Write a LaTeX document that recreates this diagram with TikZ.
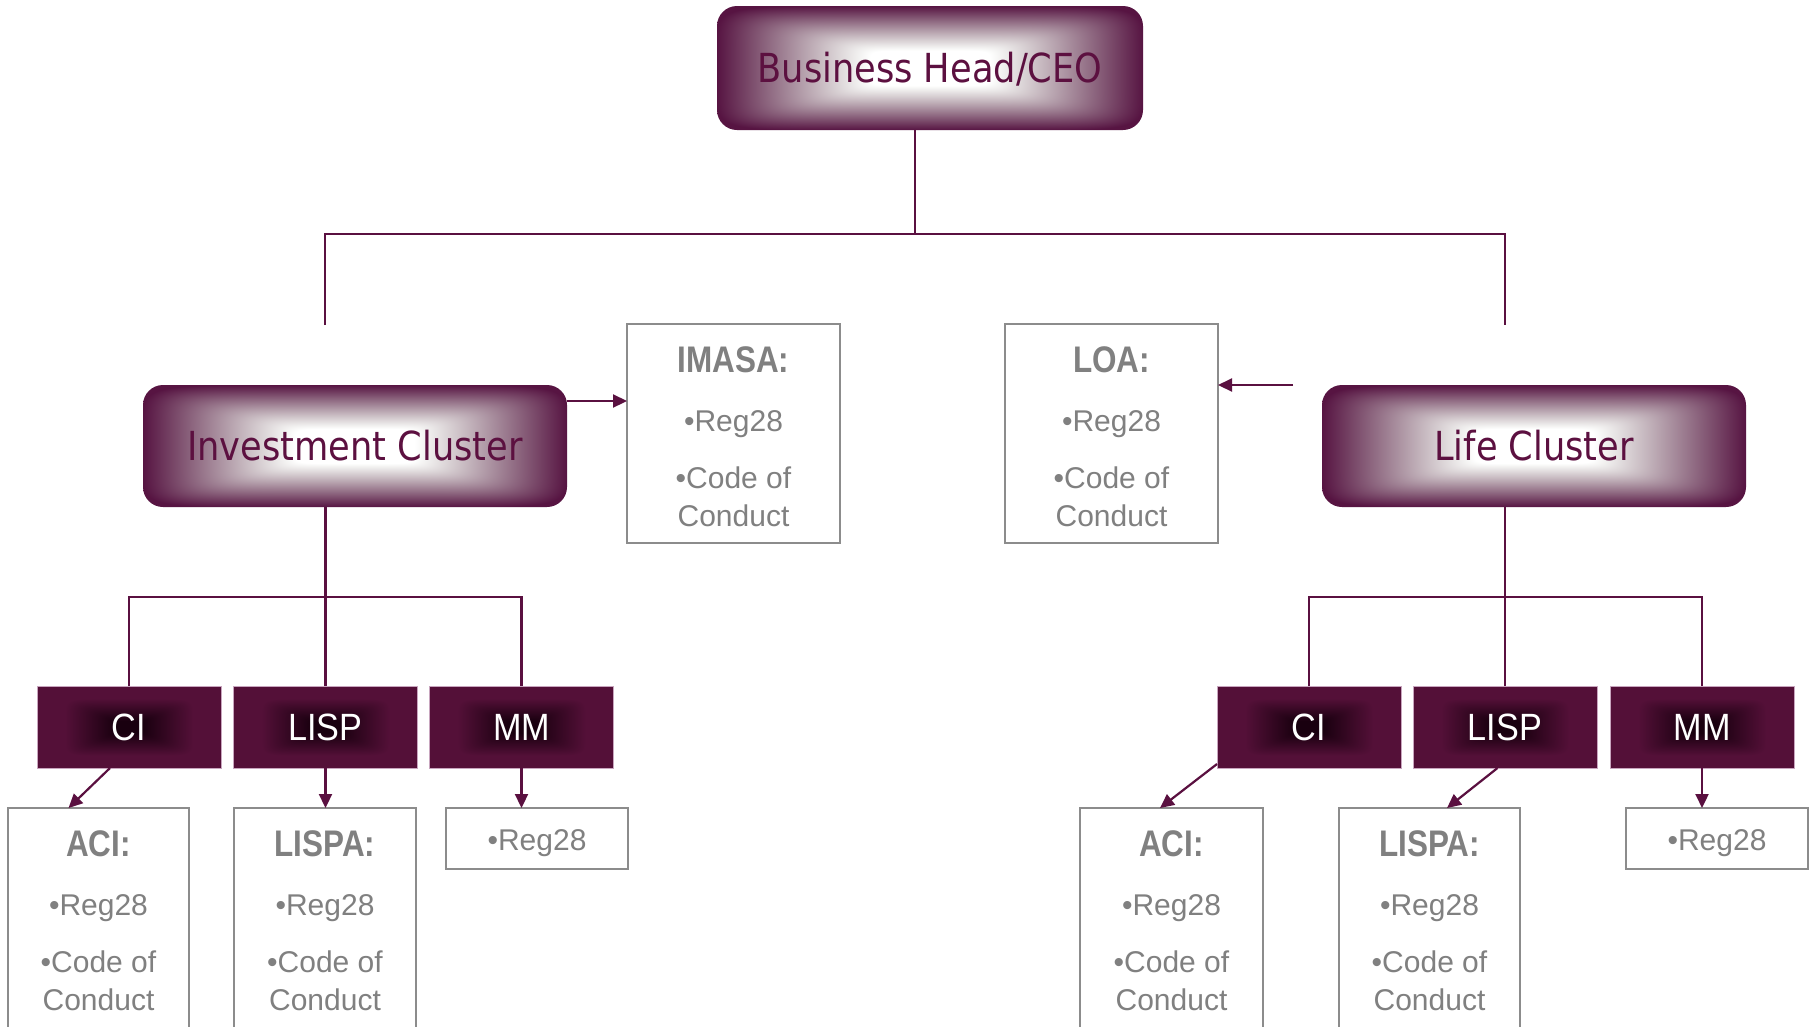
\documentclass[tikz,border=0pt]{standalone}
\usepackage{fontspec}
\setmainfont{Liberation Sans}
\newfontfamily\clusterfont[FakeStretch=0.88]{DejaVu Sans}
\newfontfamily\narrowfont[FakeStretch=0.9]{Liberation Sans}
\newfontfamily\titlefont[FakeStretch=0.85]{Liberation Sans}
\usetikzlibrary{arrows.meta}
\definecolor{lineplum}{RGB}{90,16,64}
\definecolor{clustertext}{RGB}{92,16,64}
\definecolor{txtgray}{RGB}{128,128,128}
\definecolor{boxgray}{RGB}{140,140,140}
\definecolor{ciedge}{RGB}{200,165,190}
\pgfdeclarefunctionalshading{clustershade}{\pgfpoint{-50bp}{-50bp}}{\pgfpoint{50bp}{50bp}}{}{
25 div dup mul dup mul dup mul exch 25 div dup mul dup mul dup mul add sqrt sqrt sqrt
0.28 sub 0.72 div
dup 0 lt {pop 0} if
dup 1 gt {pop 1} if
dup 0.66 mul 1 exch sub
exch dup 1.1 exp 0.92 mul 1 exch sub
exch 0.74 mul 1 exch sub
}
\pgfdeclarefunctionalshading{cishade}{\pgfpoint{-50bp}{-50bp}}{\pgfpoint{50bp}{50bp}}{}{
25 div dup mul dup mul dup mul exch 25 div dup mul dup mul dup mul add sqrt sqrt sqrt
0.15 sub 0.55 div
dup 0 lt {pop 0} if
dup 1 gt {pop 1} if
dup 0.23 mul 0.10 add
exch dup 0.063 mul
exch 0.16 mul 0.06 add
}
\newcommand\mkinfo[4]{%
  \node[ttl] (#1-t) at (#2,#3+48) {#4};
  \node[bodytxt] (#1-a) at (#2,#3+107) {•Reg28};
  \node[bodytxt] (#1-b) at (#2,#3+164) {•Code of};
  \node[bodytxt] (#1-c) at (#2,#3+202) {Conduct};
}
\tikzset{
  cluster/.style={rounded corners=20pt, shade, shading=clustershade, inner sep=0pt, outer sep=0pt,
    minimum width=424pt, minimum height=122pt, text=clustertext,
    font=\clusterfont\fontsize{40}{48}\selectfont, text height=29pt, text depth=0pt},
  subbox/.style={shade, shading=cishade, draw=ciedge, line width=0.8pt, inner sep=0pt, outer sep=0pt,
    minimum width=184pt, minimum height=82pt, text=white,
    font=\narrowfont\fontsize{38}{44}\selectfont, text height=27pt, text depth=0pt},
  graybox/.style={draw=boxgray, line width=2.5pt, fill=white, inner sep=0pt, outer sep=0pt},
  bodytxt/.style={anchor=base, inner sep=0pt, text=txtgray, font=\fontsize{30}{36}\selectfont},
  ttl/.style={anchor=base, inner sep=0pt, text=txtgray, font={\titlefont\fontsize{37}{44}\selectfont\bfseries}},
  conn/.style={draw=lineplum, line width=2.2pt},
  arr/.style={conn, -{Triangle[length=14pt,width=13pt]}},
}
\begin{document}
\begin{tikzpicture}[x=1pt,y=-1pt]
\useasboundingbox[fill=white] (0,0) rectangle (1814,1026);
% top
\node[cluster, minimum width=426pt, minimum height=124pt] (ceo) at (930,68) {Business Head/CEO};
\node[cluster] (inv) at (355,446) {Investment Cluster};
\node[cluster] (life) at (1534,446) {Life Cluster};
% side info boxes
\node[graybox, minimum width=213pt, minimum height=219pt] (imasa) at (733.5,433.5) {};
\node[graybox, minimum width=213pt, minimum height=219pt] (loa) at (1111.5,433.5) {};
\mkinfo{imasa}{733.5}{324}{IMASA:}
\mkinfo{loa}{1111.5}{324}{LOA:}
% sub units
\node[subbox] (ci1) at (129,727) {CI};
\node[subbox] (lisp1) at (325.5,727) {LISP};
\node[subbox] (mm1) at (521.5,727) {MM};
\node[subbox] (ci2) at (1309,727) {CI};
\node[subbox] (lisp2) at (1505,727) {LISP};
\node[subbox] (mm2) at (1702,727) {MM};
% bottom info boxes
\node[graybox, minimum width=181pt, minimum height=232pt] (aci1) at (98.5,924) {};
\node[graybox, minimum width=182pt, minimum height=232pt] (lispa1) at (325,924) {};
\node[graybox, minimum width=182pt, minimum height=61pt] (reg1) at (537,838.5) {};
\node[graybox, minimum width=183pt, minimum height=232pt] (aci2) at (1171.5,924) {};
\node[graybox, minimum width=181pt, minimum height=232pt] (lispa2) at (1429.5,924) {};
\node[graybox, minimum width=182pt, minimum height=61pt] (reg2) at (1717,838.5) {};
\mkinfo{aci1}{98.5}{808}{ACI:}
\mkinfo{lispa1}{325}{808}{LISPA:}
\mkinfo{aci2}{1171.5}{808}{ACI:}
\mkinfo{lispa2}{1429.5}{808}{LISPA:}
\node[bodytxt] (reg1-a) at (537,850) {•Reg28};
\node[bodytxt] (reg2-a) at (1717,850) {•Reg28};
% top connectors
\coordinate (jTop) at (915,234);
\coordinate (jL) at (325,234);
\coordinate (jR) at (1505,234);
\coordinate (endL) at (325,325);
\coordinate (endR) at (1505,325);
\draw[conn] (ceo.south -| jTop) -- (jTop);
\draw[conn] (endL) -- (jL) -- (jR) -- (endR);
% cluster side arrows
\draw[arr] ([yshift=45pt]inv.east) -- ([yshift=45pt]inv.east -| imasa.west);
\coordinate (lifeArr) at (1293,385);
\draw[arr] (lifeArr) -- (lifeArr -| loa.east);
% investment tree
\coordinate (jInv) at (325,597);
\draw[conn] (inv.south -| lisp1.north) -- (lisp1.north);
\draw[conn] (ci1.north) -- (ci1.north |- jInv) -- (mm1.north |- jInv) -- (mm1.north);
% life tree
\coordinate (jLife) at (1505,597);
\draw[conn] (life.south -| lisp2.north) -- (lisp2.north);
\draw[conn] (ci2.north) -- (ci2.north |- jLife) -- (mm2.north |- jLife) -- (mm2.north);
% lower arrows
\draw[arr] ([xshift=-19pt]ci1.south) -- ([xshift=-30pt]aci1.north);
\draw[arr] (lisp1.south) -- (lisp1.south |- lispa1.north);
\draw[arr] (mm1.south) -- (mm1.south |- reg1.north);
\draw[arr] ([yshift=4pt]ci2.south west) -- ([xshift=-11.5pt]aci2.north);
\draw[arr] ([xshift=-7.5pt]lisp2.south) -- ([xshift=17.5pt]lispa2.north);
\draw[arr] (mm2.south) -- (mm2.south |- reg2.north);
\end{tikzpicture}
\end{document}
